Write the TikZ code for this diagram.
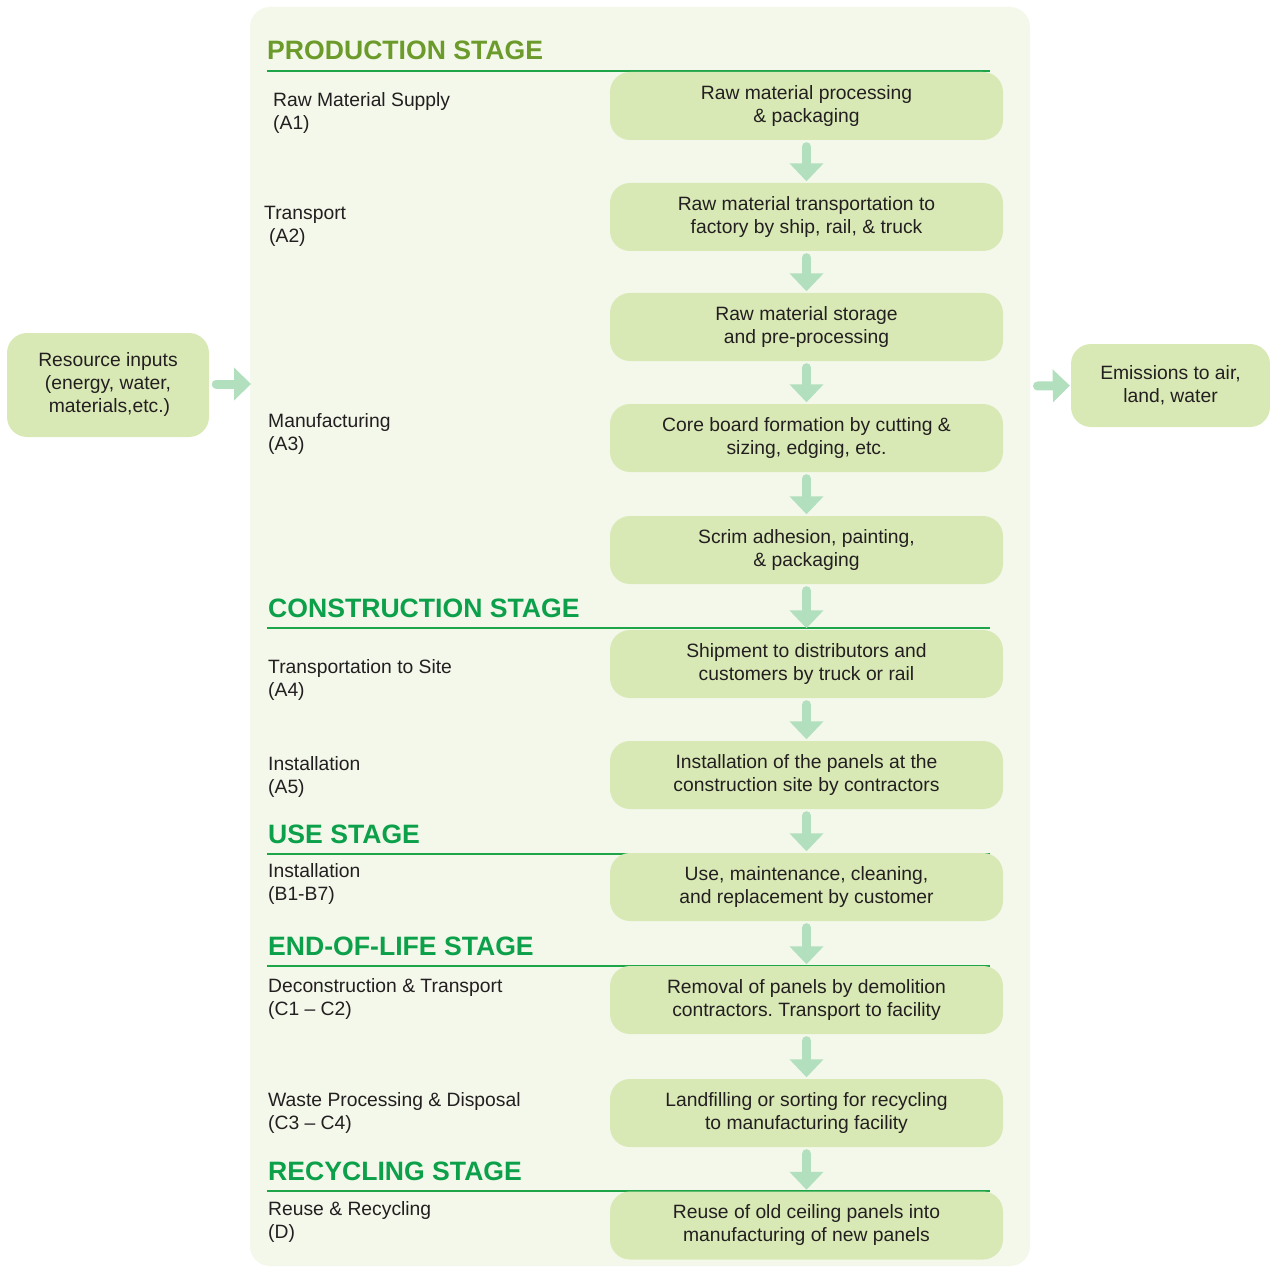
\documentclass[tikz,border=0pt]{standalone}
\usepackage{fontspec}
\setmainfont{Liberation Sans}
\usetikzlibrary{arrows.meta}
\frenchspacing
\definecolor{panelbg}{RGB}{243,248,234}
\definecolor{boxfill}{RGB}{217,233,182}
\definecolor{arrowc}{RGB}{178,223,190}
\definecolor{olivehead}{RGB}{108,155,44}
\definecolor{greenhead}{RGB}{13,160,74}
\definecolor{rulegreen}{RGB}{30,165,74}
\definecolor{txt}{RGB}{35,31,32}
\tikzset{
  flowbox/.style={rectangle, rounded corners=20pt, fill=boxfill, minimum width=393pt, minimum height=68pt, align=center, inner sep=0pt, font=\fontsize{19.3}{23}\selectfont, text=txt},
  sidebox/.style={rectangle, rounded corners=20pt, fill=boxfill, align=center, inner sep=0pt, font=\fontsize{19.3}{23}\selectfont, text=txt},
  label/.style={anchor=west, align=left, inner sep=0pt, font=\fontsize{19.3}{23}\selectfont, text=txt},
  stagehead/.style={anchor=base west, inner sep=0pt, font=\fontsize{26.6}{30}\selectfont\bfseries, text=greenhead},
  stagerule/.style={draw=rulegreen, line width=2.2pt},
  flowarrow/.style={draw=arrowc, line width=9pt, line cap=round, -{Triangle[width=33pt,length=18pt]}},
}
\begin{document}
\begin{tikzpicture}[x=1pt,y=-1pt]
\useasboundingbox (0,0) rectangle (1270,1268);
% background panel
\fill[panelbg, rounded corners=20pt] (250,7) rectangle (1030,1266);

% stage headers and rules
\node[stagehead, text=olivehead] (h1) at (267,60) {PRODUCTION STAGE};
\draw[stagerule] (267,71) coordinate (r1a) -- (990,71) coordinate (r1b);
\node[stagehead] (h2) at (268,617) {CONSTRUCTION STAGE};
\draw[stagerule] (267,628) coordinate (r2a) -- (990,628) coordinate (r2b);
\node[stagehead] (h3) at (268,843) {USE STAGE};
\draw[stagerule] (267,854) coordinate (r3a) -- (990,854) coordinate (r3b);
\node[stagehead] (h4) at (268,955) {END-OF-LIFE STAGE};
\draw[stagerule] (267,966) coordinate (r4a) -- (990,966) coordinate (r4b);
\node[stagehead] (h5) at (268,1180) {RECYCLING STAGE};
\draw[stagerule] (267,1191) coordinate (r5a) -- (990,1191) coordinate (r5b);

% left labels
\node[label] (l1) at (273,113.5) {Raw Material Supply\\(A1)};
\node[label] (l2) at (264,226) {Transport\\\hspace*{5pt}(A2)};
\node[label] (l3) at (268,434.5) {Manufacturing\\(A3)};
\node[label] (l4) at (268,680.5) {Transportation to Site\\(A4)};
\node[label] (l5) at (268,777.5) {Installation\\(A5)};
\node[label] (l6) at (268,884.5) {Installation\\(B1-B7)};
\node[label] (l7) at (268,998.5) {Deconstruction \& Transport\\(C1 -- C2)};
\node[label] (l8) at (268,1113) {Waste Processing \& Disposal\\(C3 -- C4)};
\node[label] (l9) at (268,1221.5) {Reuse \& Recycling\\(D)};

% flow boxes
\node[flowbox] (b1) at (806.5,106) {Raw material processing\\\& packaging};
\node[flowbox] (b2) at (806.5,217) {Raw material transportation to\\factory by ship, rail, \& truck};
\node[flowbox] (b3) at (806.5,327) {Raw material storage\\and pre-processing};
\node[flowbox] (b4) at (806.5,438) {Core board formation by cutting \&\\sizing, edging, etc.};
\node[flowbox] (b5) at (806.5,550) {Scrim adhesion, painting,\\\& packaging};
\node[flowbox] (b6) at (806.5,664) {Shipment to distributors and\\customers by truck or rail};
\node[flowbox] (b7) at (806.5,775) {Installation of the panels at the\\construction site by contractors};
\node[flowbox] (b8) at (806.5,887) {Use, maintenance, cleaning,\\and replacement by customer};
\node[flowbox] (b9) at (806.5,1000) {Removal of panels by demolition\\contractors. Transport to facility};
\node[flowbox] (b10) at (806.5,1113) {Landfilling or sorting for recycling\\to manufacturing facility};
\node[flowbox] (b11) at (806.5,1225.5) {Reuse of old ceiling panels into\\manufacturing of new panels};

% arrows between boxes
\foreach \a/\b in {b1/b2,b2/b3,b3/b4,b4/b5,b5/b6,b6/b7,b7/b8,b8/b9,b9/b10,b10/b11}{
  \draw[flowarrow] ([yshift=-6.5pt]\a.south) -- ([yshift=1.5pt]\b.north);
}

% side boxes
\node[sidebox, minimum width=202pt, minimum height=104pt] (res) at (108,385) {Resource inputs\\(energy, water,\\\hspace*{3pt}materials,etc.)};
\node[sidebox, minimum width=199pt, minimum height=83pt] (emi) at (1170.5,385.5) {Emissions to air,\\land, water};
\coordinate (panelL) at (251,384);
\coordinate (panelR) at (1031,386);
\draw[flowarrow, -{Triangle[width=32pt,length=17pt]}] ([xshift=7pt,yshift=1pt]res.east) -- (panelL);
\draw[flowarrow, -{Triangle[width=32pt,length=17pt]}] (panelR) ++(6.5pt,0) -- ([xshift=-1pt]emi.west);
\end{tikzpicture}
\end{document}
